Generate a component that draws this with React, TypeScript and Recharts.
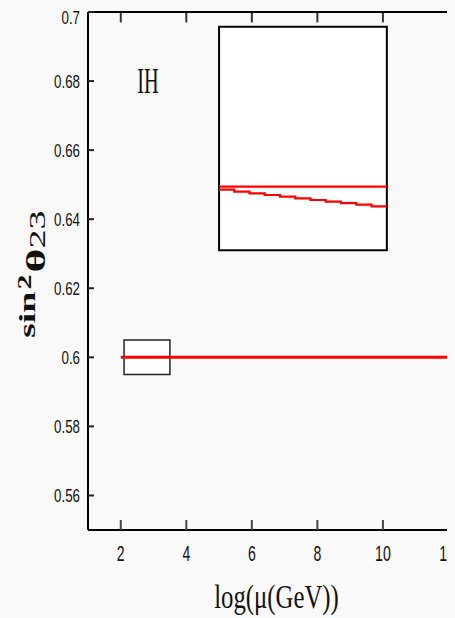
import React from "react";
import {
  ComposedChart,
  LineChart,
  Line,
  XAxis,
  YAxis,
  ReferenceArea,
  ReferenceDot,
} from "recharts";

// main plot
const xTicks = [2, 4, 6, 8, 10, 12];
const yTicks = [0.56, 0.58, 0.6, 0.62, 0.64, 0.66, 0.68, 0.7];
const mainLine = [
  { x: 2, y: 0.6 },
  { x: 12, y: 0.6 },
];
// small box around the zoomed region, and the inset frame (main coords)
const zoomBox = { x1: 2.1, x2: 3.5, y1: 0.595, y2: 0.605 };
const insetBox = { x1: 5, x2: 10.12, y1: 0.631, y2: 0.6957 };
// inward ticks on the top frame run from 0.7 down to this value
const topTickEnd = 0.697;

// inset contents (inset coords)
const insetFlat = [
  { x: 0, y: 0.6 },
  { x: 11, y: 0.6 },
];
const insetSteps = [
  0.59976, 0.59961, 0.59947, 0.59934, 0.59921, 0.59908, 0.59895, 0.59882,
  0.59871, 0.59859, 0.59845, 0.59845,
];
const insetStepData = insetSteps.map((y, i) => ({ x: i, y }));

const W = 447;
const H = 610;
const tickFont = "'Liberation Sans', Arial, sans-serif";
const serif = "'Liberation Serif', 'Times New Roman', serif";

const fmt = (v: number) => String(Number(v.toFixed(2)));

const YTick = (props: any) => {
  const { x, y, payload } = props;
  return (
    <g transform={`translate(${x},${y}) scale(0.74,1)`}>
      <text x={0} y={0} dy={6.5} textAnchor="end" fontSize={18} fontFamily={tickFont} fill="#111">
        {fmt(payload.value)}
      </text>
    </g>
  );
};

const XTick = (props: any) => {
  const { x, y, payload } = props;
  return (
    <g transform={`translate(${x},${y}) scale(0.64,1)`}>
      <text x={0} y={0} dy={16} textAnchor="middle" fontSize={22} fontFamily={tickFont} fill="#111">
        {payload.value}
      </text>
    </g>
  );
};

const XLabel = (props: any) => {
  const { viewBox } = props;
  const cx = viewBox.x + viewBox.width / 2 + 5;
  const cy = viewBox.y + 78;
  return (
    <g transform={`translate(${cx},${cy}) scale(0.75,1)`}>
      <text x={0} y={0} textAnchor="middle" fontSize={33} fontFamily={serif} fill="#111">
        log(μ(GeV))
      </text>
    </g>
  );
};

const YLabel = () => {
  // rotated, squeezed across the baseline like the rest of the figure
  return (
    <g transform="translate(27,330) rotate(-90) scale(1,0.6)">
      <text x={0} y={0} textAnchor="start" fill="#111" fontFamily={serif} fontWeight="bold" fontSize={38}>
        <tspan>sin</tspan>
        <tspan fontSize={30} dx={2} dy={-6}>2</tspan>
        <tspan fontSize={46} dx={2} dy={23}>θ</tspan>
        <tspan fontSize={38} fontWeight="normal" dx={0} dy={0}>23</tspan>
      </text>
    </g>
  );
};

const IHLabel = (props: any) => {
  const { viewBox } = props;
  const cx = viewBox.x + (viewBox.width || 0) / 2;
  const cy = viewBox.y + (viewBox.height || 0) / 2;
  return (
    <g transform={`translate(${cx},${cy}) scale(0.58,1)`}>
      <text x={0} y={0} dy={12} textAnchor="middle" fontSize={35} fontFamily={serif} fill="#111">
        IH
      </text>
    </g>
  );
};

export default function App() {
  // pixel placement of the inset chart over the inset frame
  const plotLeft = 80;
  const plotTop = 4;
  const plotW = W - plotLeft;
  const plotH = 518;
  const sx = (v: number) => plotLeft + ((v - 1) / (12.2 - 1)) * plotW;
  const sy = (v: number) => plotTop + ((0.7 - v) / (0.7 - 0.55)) * plotH;
  const insetLeft = sx(insetBox.x1);
  const insetTop = sy(insetBox.y2);
  const insetW = sx(insetBox.x2) - insetLeft;
  const insetH = sy(insetBox.y1) - insetTop;

  return (
    <div style={{ position: "relative", width: W, height: H }}>
      <style>{"body{background:#f9f9f9}"}</style>
      <ComposedChart width={W} height={H} margin={{ top: 3, right: 0, left: 0, bottom: 0 }}>
        <XAxis
          dataKey="x"
          type="number"
          domain={[1, 12.2]}
          ticks={xTicks}
          allowDataOverflow
          height={88}
          axisLine={{ stroke: "#000", strokeWidth: 2 }}
          tickLine={{ stroke: "#444", strokeWidth: 2 }}
          tickSize={-10}
          tickMargin={25}
          tick={<XTick />}
          label={<XLabel />}
        />
        <XAxis
          xAxisId="top"
          orientation="top"
          dataKey="x"
          type="number"
          domain={[1, 12.2]}
          ticks={xTicks}
          allowDataOverflow
          height={1}
          axisLine={{ stroke: "#000", strokeWidth: 2 }}
          tickLine={false}
          tick={false}
        />
        <YAxis
          type="number"
          domain={[0.55, 0.7]}
          ticks={yTicks}
          allowDataOverflow
          width={80}
          axisLine={{ stroke: "#000", strokeWidth: 2 }}
          tickLine={{ stroke: "#222", strokeWidth: 2 }}
          tickSize={-6}
          tickMargin={14}
          tick={<YTick />}
          label={<YLabel />}
        />
        <ReferenceArea
          x1={insetBox.x1}
          x2={insetBox.x2}
          y1={insetBox.y1}
          y2={insetBox.y2}
          fill="#fff"
          fillOpacity={1}
          stroke="#000"
          strokeWidth={2}
        />
        <ReferenceArea
          x1={zoomBox.x1}
          x2={zoomBox.x2}
          y1={zoomBox.y1}
          y2={zoomBox.y2}
          fill="#fff"
          fillOpacity={1}
          stroke="#222"
          strokeWidth={1.5}
        />
        <ReferenceDot x={2.83} y={0.68} r={0} stroke="none" fill="none" label={<IHLabel />} />
        {/* inward ticks along the top frame */}
        {xTicks.map((t) => (
          <Line
            key={`top-${t}`}
            data={[
              { x: t, y: 0.7 },
              { x: t, y: topTickEnd },
            ]}
            dataKey="y"
            type="linear"
            stroke="#333"
            strokeWidth={2}
            dot={false}
            activeDot={false}
            legendType="none"
            isAnimationActive={false}
          />
        ))}
        <Line
          data={mainLine}
          dataKey="y"
          type="linear"
          stroke="#ff0000"
          strokeWidth={3}
          dot={false}
          isAnimationActive={false}
        />
      </ComposedChart>
      <div style={{ position: "absolute", left: insetLeft, top: insetTop }}>
        <LineChart width={insetW} height={insetH} margin={{ top: 0, right: 0, left: 0, bottom: 0 }}>
          <XAxis dataKey="x" type="number" domain={[0, 11]} hide />
          <YAxis type="number" domain={[0.595, 0.6125]} hide />
          <Line
            data={insetFlat}
            dataKey="y"
            type="linear"
            stroke="#ff0000"
            strokeWidth={2.2}
            dot={false}
            isAnimationActive={false}
          />
          <Line
            data={insetStepData}
            dataKey="y"
            type="stepAfter"
            stroke="#ff0000"
            strokeWidth={2.2}
            dot={false}
            isAnimationActive={false}
          />
        </LineChart>
      </div>
    </div>
  );
}
